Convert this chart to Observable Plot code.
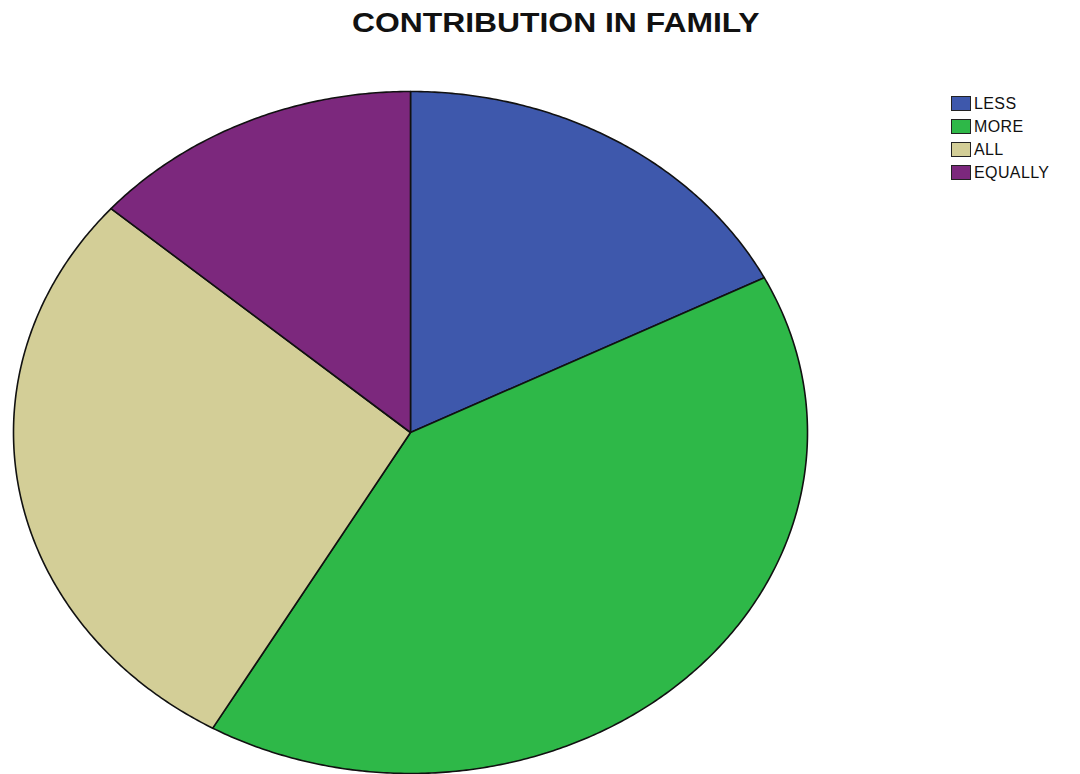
<!DOCTYPE html>
<html>
<head>
<meta charset="utf-8">
<script src="https://cdn.jsdelivr.net/npm/d3@7"></script>
<script src="https://cdn.jsdelivr.net/npm/@observablehq/plot@0.6"></script>
<style>
  html, body { margin: 0; padding: 0; background: #fff; }
  #wrap { position: relative; width: 1080px; height: 774px; overflow: hidden; font-family: "Liberation Sans", Arial, sans-serif; }
  #title { position: absolute; left: 0; width: 1112px; top: 8px; text-align: center; }
  #title span { display: inline-block; font-weight: bold; font-size: 27px; color: #111; transform: scaleX(1.18); transform-origin: center; }
  #legend { position: absolute; left: 951px; top: 92px; }
  .row { display: flex; align-items: center; height: 23px; }
  .sw { width: 20px; height: 15px; border: 1px solid #222; box-sizing: border-box; margin-right: 3px; }
  .lab { font-size: 16px; color: #111; letter-spacing: 0.4px; }
  #chart { position: absolute; left: 0; top: 0; }
</style>
</head>
<body>
<div id="wrap">
  <div id="chart"></div>
  <div id="title"><span>CONTRIBUTION IN FAMILY</span></div>
  <div id="legend"></div>
</div>
<script>
// Data (percent shares; clockwise from 12 o'clock)
const categories = ["LESS", "MORE", "ALL", "EQUALLY"];
const shares = [17.5, 40.8, 28.1, 13.6];
const colors = ["#3E58AC", "#2EB848", "#D3CE97", "#7C287D"];

// Build slice outlines from the shares (angles clockwise from top)
const total = d3.sum(shares);
const pts = [];
let start = 0;
categories.forEach((cat, i) => {
  const a0 = start / total * 2 * Math.PI;
  const a1 = (start + shares[i]) / total * 2 * Math.PI;
  start += shares[i];
  pts.push({cat, x: 0, y: 0});
  const n = Math.max(2, Math.ceil((a1 - a0) / (Math.PI / 360)));
  for (let k = 0; k <= n; k++) {
    const a = a0 + (a1 - a0) * k / n;
    pts.push({cat, x: Math.sin(a), y: Math.cos(a)});
  }
});

const plot = Plot.plot({
  width: 1080,
  height: 774,
  marginLeft: 13,
  marginRight: 273,
  marginTop: 91,
  marginBottom: 1,
  x: {domain: [-1, 1], axis: null},
  y: {domain: [-1, 1], axis: null},
  color: {domain: categories, range: colors},
  marks: [
    Plot.line(pts, {
      x: "x", y: "y", z: "cat", fill: "cat",
      stroke: "#111", strokeWidth: 1.6, curve: "linear-closed", strokeLinejoin: "round"
    })
  ]
});
document.getElementById("chart").appendChild(plot);

const legend = document.getElementById("legend");
categories.forEach((c, i) => {
  const row = document.createElement("div");
  row.className = "row";
  const sw = document.createElement("div");
  sw.className = "sw";
  sw.style.background = plot.scale("color").apply(c);
  const lab = document.createElement("span");
  lab.className = "lab";
  lab.textContent = c;
  row.appendChild(sw);
  row.appendChild(lab);
  legend.appendChild(row);
});
</script>
</body>
</html>
